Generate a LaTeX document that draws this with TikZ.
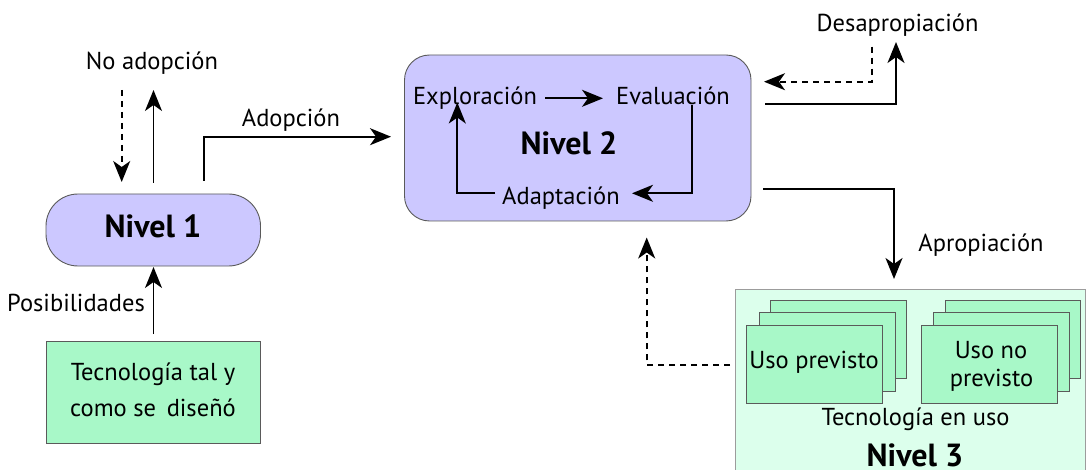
\documentclass[tikz,border=0pt]{standalone}
\usepackage{fontspec}
\setmainfont{PT Sans}
\usetikzlibrary{arrows.meta}
\definecolor{lav}{HTML}{CCC8FF}
\definecolor{mint}{HTML}{A8F8C8}
\definecolor{palemint}{HTML}{DCFFEC}
\definecolor{edge}{HTML}{5A5A5A}
\tikzset{
  lbl/.style={font=\fontsize{24.5}{29}\selectfont, inner sep=0pt, anchor=base},
  big/.style={font=\fontsize{32}{36}\selectfont\bfseries, inner sep=0pt, anchor=base},
  levelbox/.style={draw=edge, line width=0.9pt, fill=lav},
  greenbox/.style={draw=edge, line width=0.9pt, fill=mint},
  arr/.style={line width=1.9pt, -{Stealth[length=21pt,width=17pt,inset=6pt]}},
  darr/.style={arr, dash pattern=on 6pt off 5pt}
}
\begin{document}
\begin{tikzpicture}[x=1pt,y=-1pt]
\useasboundingbox (0,0) rectangle (1086,470);

% Level 1 and the designed technology
\draw[levelbox, rounded corners=32pt] (46,194) rectangle (260.5,266);
\node[big] (n1) at (153,238) {Nivel 1};
\draw[greenbox] (46,341.5) rectangle (260.5,443.5);
\node[lbl] (tec1) at (153,380.5) {Tecnología tal y};
\node[lbl] (tec2) at (153,416.5) {como se\, diseñó};
\node[lbl] (nad) at (152,70) {No adopción};
\node[lbl] (pos) at (76,311.5) {Posibilidades};

\coordinate (n1top) at (153.5,183);
\coordinate (n1bot) at (153.5,267);
\coordinate (tectop) at (153.5,334);
\coordinate (dtop) at (121.7,90);
\coordinate (dbot) at (121.7,182);
\coordinate (uptop) at (153.5,90);
\draw[arr] (tectop) -- (n1bot);
\draw[arr] (n1top) -- (uptop);
\draw[darr] (dtop) -- (dbot);

% Level 2
\draw[levelbox, rounded corners=25pt] (404.5,55) rectangle (751,221);
\node[big] (n2) at (569,155) {Nivel 2};
\node[lbl] (exp) at (475,105) {Exploración};
\node[lbl] (eva) at (673,105) {Evaluación};
\node[lbl] (ada) at (561,205) {Adaptación};
\coordinate (e1) at (545,98.3);
\coordinate (e2) at (603,98.3);
\draw[arr] (e1) -- (e2);
\coordinate (ev1) at (691.7,105);
\coordinate (ev2) at (691.7,193.3);
\coordinate (ad1) at (632,193.3);
\draw[arr] (ev1) -- (ev2) -- (ad1);
\coordinate (ad2) at (495,193.3);
\coordinate (ad3) at (457.3,193.3);
\coordinate (ad4) at (457.3,102.5);
\draw[arr] (ad2) -- (ad3) -- (ad4);

% Adoption
\coordinate (a1) at (204.3,181);
\coordinate (a2) at (204.3,136.7);
\coordinate (a3) at (391,136.7);
\draw[arr] (a1) -- (a2) -- (a3);
\node[lbl] (adop) at (291,126.7) {Adopción};

% Disappropriation
\node[lbl] (desap) at (897.6,31.7) {Desapropiación};
\coordinate (s1) at (765,104);
\coordinate (s2) at (896,104);
\coordinate (s3) at (896,42);
\draw[arr] (s1) -- (s2) -- (s3);
\coordinate (d1) at (871.7,46.7);
\coordinate (d2) at (871.7,81.7);
\coordinate (d3) at (764,81.7);
\draw[darr] (d1) -- (d2) -- (d3);

% Appropriation
\coordinate (p1) at (763,189);
\coordinate (p2) at (894,189);
\coordinate (p3) at (894,279);
\draw[arr] (p1) -- (p2) -- (p3);
\node[lbl] (aprop) at (981,251.7) {Apropiación};

% Level 3
\draw[draw=edge!60, line width=0.9pt, fill=palemint] (735.7,289) rectangle (1085,472);
\draw[greenbox] (770.7,300) rectangle (906.7,378.3);
\draw[greenbox] (759,312.3) rectangle (895,391.7);
\draw[greenbox] (746.7,325) rectangle (882.7,403.3);
\node[lbl] (prev) at (814,368.3) {Uso previsto};
\draw[greenbox] (945,300) rectangle (1080.7,378.3);
\draw[greenbox] (933,312.3) rectangle (1069,391.7);
\draw[greenbox] (921,325) rectangle (1057.3,403.3);
\node[lbl] (noprev1) at (991,358.3) {Uso no};
\node[lbl] (noprev2) at (991.5,386.7) {previsto};
\node[lbl] (enuso) at (915.5,425) {Tecnología en uso};
\node[big] (n3) at (915,466) {Nivel 3};

% Feedback from level 3 to level 2
\coordinate (f1) at (730,365);
\coordinate (f2) at (646.7,365);
\coordinate (f3) at (646.7,237.5);
\draw[darr] (f1) -- (f2) -- (f3);
\end{tikzpicture}
\end{document}
